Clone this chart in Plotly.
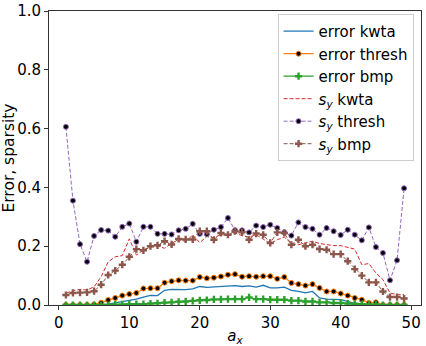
import plotly.graph_objects as go

ax = list(range(1, 50))

error_kwta = [0, 0, 0, 0, 0, 0.001, 0.003, 0.007, 0.010, 0.016,
              0.020, 0.027, 0.033, 0.032, 0.050, 0.053, 0.053, 0.052, 0.055, 0.063,
              0.060, 0.061, 0.063, 0.063, 0.066, 0.063, 0.065, 0.061, 0.067, 0.058,
              0.058, 0.061, 0.050, 0.046, 0.041, 0.046, 0.024, 0.020, 0.020, 0.018,
              0.012, 0.005, 0.001, 0, 0, 0, 0, 0, 0]

error_thresh = [0, 0, 0, 0, 0.002, 0.008, 0.017, 0.024, 0.032, 0.037,
                0.041, 0.056, 0.057, 0.057, 0.076, 0.081, 0.084, 0.083, 0.083, 0.095,
                0.091, 0.093, 0.097, 0.103, 0.105, 0.096, 0.098, 0.096, 0.098, 0.098,
                0.089, 0.095, 0.075, 0.071, 0.066, 0.071, 0.058, 0.046, 0.046, 0.039,
                0.032, 0.024, 0.018, 0.007, 0.009, 0, 0, 0, 0]

error_bmp = [0, 0, 0, 0, 0, 0, 0, 0.001, 0.002, 0.003,
             0.003, 0.003, 0.005, 0.006, 0.008, 0.009, 0.011, 0.012, 0.014, 0.016,
             0.017, 0.019, 0.019, 0.020, 0.020, 0.020, 0.026, 0.020, 0.020, 0.018,
             0.018, 0.018, 0.015, 0.015, 0.012, 0.012, 0.009, 0.009, 0.007, 0.007,
             0.005, 0.004, 0.003, 0.002, 0.001, 0, 0, 0, 0]

sy_kwta = [0.040, 0.049, 0.053, 0.051, 0.062, 0.096, 0.147, 0.164, 0.168, 0.225,
           0.170, 0.187, 0.197, 0.201, 0.193, 0.210, 0.222, 0.216, 0.238, 0.212,
           0.233, 0.228, 0.240, 0.236, 0.245, 0.236, 0.231, 0.239, 0.224, 0.209,
           0.222, 0.231, 0.209, 0.205, 0.211, 0.217, 0.209, 0.205, 0.202, 0.202,
           0.197, 0.190, 0.137, 0.141, 0.109, 0.086, 0.041, 0.035, 0.035]

sy_thresh = [0.606, 0.355, 0.207, 0.147, 0.235, 0.255, 0.253, 0.232, 0.266, 0.277,
             0.215, 0.266, 0.266, 0.242, 0.242, 0.240, 0.254, 0.259, 0.276, 0.242,
             0.241, 0.256, 0.265, 0.296, 0.254, 0.254, 0.247, 0.270, 0.265, 0.273,
             0.262, 0.247, 0.236, 0.281, 0.265, 0.259, 0.239, 0.262, 0.251, 0.238,
             0.256, 0.239, 0.220, 0.264, 0.197, 0.177, 0.084, 0.152, 0.397]

sy_bmp = [0.034, 0.041, 0.042, 0.043, 0.047, 0.069, 0.102, 0.117, 0.137, 0.164,
          0.190, 0.186, 0.200, 0.203, 0.217, 0.206, 0.225, 0.223, 0.223, 0.251,
          0.251, 0.222, 0.245, 0.239, 0.251, 0.247, 0.222, 0.243, 0.239, 0.211,
          0.247, 0.245, 0.205, 0.222, 0.200, 0.205, 0.190, 0.188, 0.173, 0.173,
          0.149, 0.122, 0.100, 0.077, 0.077, 0.046, 0.027, 0.027, 0.022]

BLUE = '#1f77b4'
ORANGE = '#ff7f0e'
GREEN = '#2ca02c'
RED = '#d62728'
PURPLE = '#9467bd'
BROWN = '#8c564b'

SY = '<i>s<sub>y</sub></i>'

fig = go.Figure()

fig.add_trace(go.Scatter(x=ax, y=error_kwta, mode='lines', name='error kwta',
                         line=dict(color=BLUE, width=1.3)))
fig.add_trace(go.Scatter(x=ax, y=error_thresh, mode='lines+markers', name='error thresh',
                         line=dict(color=ORANGE, width=1.3),
                         marker=dict(symbol='circle', size=5, color='black',
                                     line=dict(color=ORANGE, width=1))))
fig.add_trace(go.Scatter(x=ax, y=error_bmp, mode='lines+markers', name='error bmp',
                         line=dict(color=GREEN, width=1.3),
                         marker=dict(symbol='cross', size=6, color=GREEN)))
fig.add_trace(go.Scatter(x=ax, y=sy_kwta, mode='lines', name=SY + ' kwta',
                         line=dict(color=RED, width=1, dash='4px,2px')))
fig.add_trace(go.Scatter(x=ax, y=sy_thresh, mode='lines+markers', name=SY + ' thresh',
                         line=dict(color=PURPLE, width=1, dash='4px,2px'),
                         marker=dict(symbol='circle', size=5, color='black',
                                     line=dict(color=PURPLE, width=1))))
fig.add_trace(go.Scatter(x=ax, y=sy_bmp, mode='lines+markers', name=SY + ' bmp',
                         line=dict(color=BROWN, width=1, dash='4px,2px'),
                         marker=dict(symbol='cross', size=6, color=BROWN)))

axis_style = dict(
    showgrid=False, zeroline=False, showline=True, linecolor='#333333', linewidth=1,
    mirror=True, ticks='outside', ticklen=4, tickcolor='#333333', automargin=False,
    tickfont=dict(size=15, color='black'),
)

fig.update_layout(
    width=426, height=346,
    margin=dict(l=49, r=5, t=11, b=41),
    plot_bgcolor='white', paper_bgcolor='white',
    font=dict(family='DejaVu Sans', color='black'),
    xaxis=dict(range=[-1.4, 51.4], tickvals=[0, 10, 20, 30, 40, 50],
               title=dict(text='<i>a<sub>x</sub></i>', font=dict(size=15), standoff=0),
               **axis_style),
    yaxis=dict(range=[0, 1], tickvals=[0, 0.2, 0.4, 0.6, 0.8, 1.0], tickformat='.1f',
               title=dict(text='Error, sparsity', font=dict(size=15.5), standoff=4),
               **axis_style),
    legend=dict(x=0.98, y=0.99, xanchor='right', yanchor='top',
                bgcolor='rgba(255,255,255,0.8)', bordercolor='#cccccc', borderwidth=1,
                font=dict(size=15), itemwidth=30, tracegroupgap=0),
    showlegend=True,
)

# drop the default 8px body margin so the figure sits at the page corner
fig.write_html("out.html", config={'displayModeBar': False},
               post_script="document.body.style.margin='0';")
